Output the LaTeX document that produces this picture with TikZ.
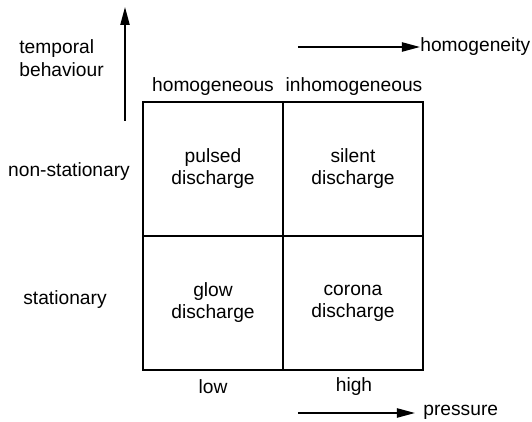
\documentclass[tikz,border=0pt]{standalone}
\usepackage{fontspec}
\setmainfont{Liberation Sans}
\usetikzlibrary{arrows.meta,positioning}

\begin{document}
\begin{tikzpicture}[
  x=0.5pt, y=-0.5pt,
  font=\fontsize{9.6}{11}\selectfont,
  cell/.style={draw=black, line width=0.85pt, minimum width=70pt, minimum height=67pt,
               align=center, inner sep=0pt, outer sep=0pt},
  lbl/.style={inner sep=0pt, align=center},
  a/.style={-{Triangle[length=9pt,width=4.6pt]}, line width=0.8pt}
]
\useasboundingbox (0,0) rectangle (532,422);

% the four discharge types
\node[cell] (pulsed) at (213,169) {pulsed\\discharge};
\node[cell] (silent) at (353,169) {silent\\discharge};
\node[cell] (glow) at (213,303) {glow\\discharge};
\node[cell] (corona) at (353,303) {corona\\discharge};

% column and row heads
\node[lbl] (hom) at (213,87) {homogeneous};
\node[lbl] (inhom) at (354,87) {inhomogeneous};
\node[lbl] (low) at (213,387) {low};
\node[lbl] (high) at (354,387) {high};
\node[lbl] (nonstat) at (69,172) {non-stationary};
\node[lbl] (stat) at (65,300) {stationary};

% axes
\node[lbl, anchor=west, align=left, font=\fontsize{9.6}{11.5}\selectfont] (temp) at (19,58) {temporal\\behaviour};
\coordinate (tbot) at (125,121);
\coordinate (ttop) at (125,7);
\draw[a] (tbot) -- (ttop);

\node[lbl, anchor=west] (homog) at (420,47) {homogeneity};
\coordinate (hstart) at (298,47);
\draw[a] (hstart) -- (homog.west);

\node[lbl, anchor=west] (press) at (423,412) {pressure};
\coordinate (pstart) at (298,413);
\draw[a] (pstart) -- ([xshift=-4pt]press.west |- pstart);
\end{tikzpicture}
\end{document}
